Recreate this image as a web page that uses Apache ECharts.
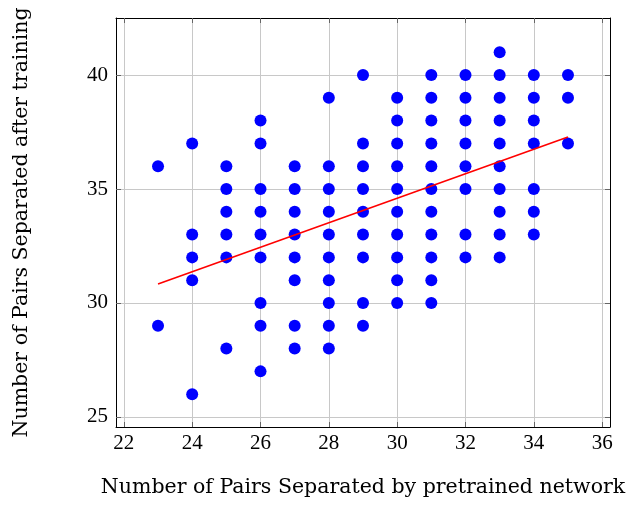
<!DOCTYPE html>
<html>
<head>
<meta charset="utf-8">
<script src="https://cdn.jsdelivr.net/npm/echarts@6/dist/echarts.min.js"></script>
<style>html,body{margin:0;padding:0;background:#fff;}#c{width:631px;height:505px;}</style>
</head>
<body>
<div id="c"></div>
<script>
// Data
const xColumns = [23, 24, 25, 26, 27, 28, 29, 30, 31, 32, 33, 34, 35];
const yByColumn = [
  [36, 29],
  [37, 33, 32, 31, 26],
  [36, 35, 34, 33, 32, 28],
  [38, 37, 35, 34, 33, 32, 30, 29, 27],
  [36, 35, 34, 33, 32, 31, 29, 28],
  [39, 36, 35, 34, 33, 32, 31, 30, 29, 28],
  [40, 37, 36, 35, 34, 33, 32, 30, 29],
  [39, 38, 37, 36, 35, 34, 33, 32, 31, 30],
  [40, 39, 38, 37, 36, 35, 34, 33, 32, 31, 30],
  [40, 39, 38, 37, 36, 35, 33, 32],
  [41, 40, 39, 38, 37, 36, 35, 34, 33, 32],
  [40, 39, 38, 37, 35, 34, 33],
  [40, 39, 37]
];
const fitX = [23, 35];
const fitY = [30.83, 37.28];
const xTicks = [22, 24, 26, 28, 30, 32, 34, 36];
const yTicks = [25, 30, 35, 40];
const xTitle = 'Number of Pairs Separated by pretrained network';
const yTitle = 'Number of Pairs Separated after training';

const points = [];
xColumns.forEach((x, i) => yByColumn[i].forEach(y => points.push([x, y])));
const fitLine = fitX.map((x, i) => [x, fitY[i]]);

const font = 'Liberation Serif';
const titleFont = 'DejaVu Serif';
const tickStyle = { show: true, inside: true, length: 5, lineStyle: { color: '#666', width: 1 } };
function axisBase(extra) {
  return Object.assign({
    type: 'value',
    axisLine: { show: true, onZero: false, lineStyle: { color: '#000', width: 1 } },
    splitLine: { show: false },
  }, extra);
}
const xMin = 21.77, xMax = 36.23, yMin = 24.56, yMax = 42.5;

const chart = echarts.init(document.getElementById('c'), null, { renderer: 'canvas' });
chart.setOption({
  animation: false,
  backgroundColor: '#fff',
  grid: { left: 116, top: 18, right: 21, bottom: 78, containLabel: false, outerBoundsMode: 'none' },
  xAxis: [
    axisBase({
      position: 'bottom', min: xMin, max: xMax,
      name: xTitle, nameLocation: 'middle', nameGap: 50,
      nameTextStyle: { fontFamily: titleFont, fontSize: 20.5, color: '#000' },
      axisTick: Object.assign({ customValues: xTicks }, tickStyle),
      axisLabel: { customValues: xTicks, fontFamily: font, fontSize: 21, color: '#000', margin: 6 },
      splitLine: { show: true, lineStyle: { color: '#c8c8c8', width: 1 } }
    }),
    axisBase({
      position: 'top', min: xMin, max: xMax,
      axisTick: Object.assign({ customValues: xTicks }, tickStyle),
      axisLabel: { show: false }
    })
  ],
  yAxis: [
    axisBase({
      position: 'left', min: yMin, max: yMax,
      name: yTitle, nameLocation: 'middle', nameGap: 84,
      nameTextStyle: { fontFamily: titleFont, fontSize: 20.5, color: '#000' },
      axisTick: Object.assign({ customValues: yTicks }, tickStyle),
      axisLabel: { customValues: yTicks, fontFamily: font, fontSize: 21, color: '#000', margin: 8 },
      splitLine: { show: true, lineStyle: { color: '#c8c8c8', width: 1 } }
    }),
    axisBase({
      position: 'right', min: yMin, max: yMax,
      axisTick: Object.assign({ customValues: yTicks }, tickStyle),
      axisLabel: { show: false }
    })
  ],
  series: [
    {
      type: 'scatter', data: points, symbol: 'circle', symbolSize: 12,
      itemStyle: { color: '#0000ff', opacity: 1 }, z: 3
    },
    {
      type: 'line', data: fitLine, symbol: 'none',
      lineStyle: { color: '#ff0000', width: 1.6 }, z: 4
    }
  ]
});
</script>
</body>
</html>
